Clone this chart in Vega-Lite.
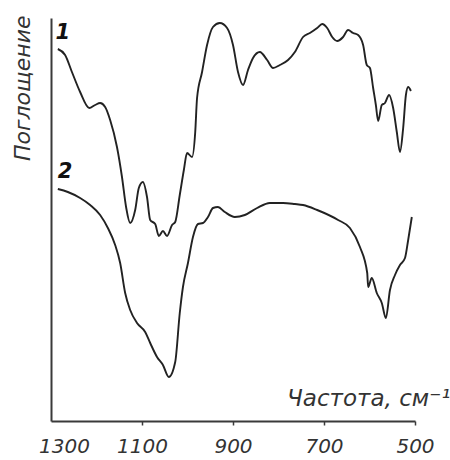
{
  "$schema": "https://vega.github.io/schema/vega-lite/v6.json",
  "autosize": "none",
  "width": 364,
  "height": 403,
  "padding": {"left": 51, "top": 18, "right": 35, "bottom": 39},
  "background": "white",
  "config": {"view": {"stroke": null}, "font": "DejaVu Sans"},
  "datasets": {
    "spectra": [
      {"s": "1", "wn": 1285, "a": 372}, {"s": "1", "wn": 1269, "a": 366}, {"s": "1", "wn": 1254, "a": 349},
      {"s": "1", "wn": 1236, "a": 329}, {"s": "1", "wn": 1216, "a": 313}, {"s": "1", "wn": 1203, "a": 316},
      {"s": "1", "wn": 1192, "a": 318}, {"s": "1", "wn": 1181, "a": 314}, {"s": "1", "wn": 1170, "a": 301},
      {"s": "1", "wn": 1155, "a": 274}, {"s": "1", "wn": 1144, "a": 244}, {"s": "1", "wn": 1135, "a": 214},
      {"s": "1", "wn": 1126, "a": 198}, {"s": "1", "wn": 1115, "a": 211}, {"s": "1", "wn": 1107, "a": 233},
      {"s": "1", "wn": 1098, "a": 239}, {"s": "1", "wn": 1089, "a": 224}, {"s": "1", "wn": 1082, "a": 201},
      {"s": "1", "wn": 1071, "a": 197}, {"s": "1", "wn": 1063, "a": 185}, {"s": "1", "wn": 1054, "a": 190},
      {"s": "1", "wn": 1045, "a": 185}, {"s": "1", "wn": 1034, "a": 196}, {"s": "1", "wn": 1027, "a": 199},
      {"s": "1", "wn": 1017, "a": 226}, {"s": "1", "wn": 1008, "a": 251}, {"s": "1", "wn": 1001, "a": 268},
      {"s": "1", "wn": 990, "a": 264}, {"s": "1", "wn": 983, "a": 289}, {"s": "1", "wn": 979, "a": 323},
      {"s": "1", "wn": 968, "a": 349}, {"s": "1", "wn": 957, "a": 376}, {"s": "1", "wn": 944, "a": 394},
      {"s": "1", "wn": 929, "a": 398}, {"s": "1", "wn": 913, "a": 393}, {"s": "1", "wn": 900, "a": 376},
      {"s": "1", "wn": 889, "a": 349}, {"s": "1", "wn": 878, "a": 336}, {"s": "1", "wn": 867, "a": 351},
      {"s": "1", "wn": 856, "a": 363}, {"s": "1", "wn": 841, "a": 369}, {"s": "1", "wn": 825, "a": 361},
      {"s": "1", "wn": 812, "a": 353}, {"s": "1", "wn": 797, "a": 356}, {"s": "1", "wn": 779, "a": 361},
      {"s": "1", "wn": 764, "a": 369}, {"s": "1", "wn": 746, "a": 384}, {"s": "1", "wn": 731, "a": 388},
      {"s": "1", "wn": 715, "a": 393}, {"s": "1", "wn": 704, "a": 397}, {"s": "1", "wn": 693, "a": 393},
      {"s": "1", "wn": 682, "a": 384}, {"s": "1", "wn": 671, "a": 380}, {"s": "1", "wn": 658, "a": 384},
      {"s": "1", "wn": 647, "a": 391}, {"s": "1", "wn": 636, "a": 388}, {"s": "1", "wn": 625, "a": 386},
      {"s": "1", "wn": 614, "a": 376}, {"s": "1", "wn": 606, "a": 356}, {"s": "1", "wn": 599, "a": 353},
      {"s": "1", "wn": 592, "a": 333}, {"s": "1", "wn": 586, "a": 316}, {"s": "1", "wn": 581, "a": 300},
      {"s": "1", "wn": 573, "a": 316}, {"s": "1", "wn": 566, "a": 318}, {"s": "1", "wn": 557, "a": 326},
      {"s": "1", "wn": 548, "a": 313}, {"s": "1", "wn": 540, "a": 289}, {"s": "1", "wn": 533, "a": 269},
      {"s": "1", "wn": 526, "a": 293}, {"s": "1", "wn": 520, "a": 326}, {"s": "1", "wn": 515, "a": 334},
      {"s": "1", "wn": 509, "a": 330},
      {"s": "2", "wn": 1285, "a": 232}, {"s": "2", "wn": 1263, "a": 229}, {"s": "2", "wn": 1236, "a": 223},
      {"s": "2", "wn": 1214, "a": 216}, {"s": "2", "wn": 1192, "a": 206}, {"s": "2", "wn": 1175, "a": 193},
      {"s": "2", "wn": 1159, "a": 176}, {"s": "2", "wn": 1148, "a": 158}, {"s": "2", "wn": 1137, "a": 128},
      {"s": "2", "wn": 1126, "a": 111}, {"s": "2", "wn": 1111, "a": 98}, {"s": "2", "wn": 1093, "a": 89},
      {"s": "2", "wn": 1082, "a": 78}, {"s": "2", "wn": 1067, "a": 64}, {"s": "2", "wn": 1054, "a": 56},
      {"s": "2", "wn": 1041, "a": 44}, {"s": "2", "wn": 1027, "a": 59}, {"s": "2", "wn": 1017, "a": 108},
      {"s": "2", "wn": 1010, "a": 134}, {"s": "2", "wn": 999, "a": 158}, {"s": "2", "wn": 988, "a": 184},
      {"s": "2", "wn": 977, "a": 197}, {"s": "2", "wn": 966, "a": 198}, {"s": "2", "wn": 955, "a": 204},
      {"s": "2", "wn": 944, "a": 213}, {"s": "2", "wn": 933, "a": 214}, {"s": "2", "wn": 918, "a": 209},
      {"s": "2", "wn": 896, "a": 204}, {"s": "2", "wn": 874, "a": 206}, {"s": "2", "wn": 847, "a": 213},
      {"s": "2", "wn": 819, "a": 218}, {"s": "2", "wn": 790, "a": 218}, {"s": "2", "wn": 764, "a": 217},
      {"s": "2", "wn": 746, "a": 216}, {"s": "2", "wn": 715, "a": 211}, {"s": "2", "wn": 669, "a": 201},
      {"s": "2", "wn": 643, "a": 193}, {"s": "2", "wn": 621, "a": 174}, {"s": "2", "wn": 605, "a": 148},
      {"s": "2", "wn": 603, "a": 134}, {"s": "2", "wn": 595, "a": 143}, {"s": "2", "wn": 584, "a": 128},
      {"s": "2", "wn": 573, "a": 118}, {"s": "2", "wn": 564, "a": 103}, {"s": "2", "wn": 555, "a": 131},
      {"s": "2", "wn": 544, "a": 146}, {"s": "2", "wn": 533, "a": 156}, {"s": "2", "wn": 522, "a": 163},
      {"s": "2", "wn": 515, "a": 181}, {"s": "2", "wn": 507, "a": 204}
    ],
    "labels": [
      {"s": "1", "wn": 1274, "a": 388},
      {"s": "2", "wn": 1269, "a": 249}
    ]
  },
  "layer": [
    {
      "data": {"name": "spectra"},
      "mark": {"type": "line", "color": "#222222", "strokeWidth": 1.9, "interpolate": "monotone"},
      "encoding": {
        "x": {
          "field": "wn", "type": "quantitative",
          "scale": {"domain": [1300, 500], "nice": false, "zero": false},
          "axis": {
            "values": [1300, 1100, 900, 700, 500],
            "format": "d",
            "labelOverlap": false, "labelBound": false, "labelFlush": false,
            "grid": false,
            "domainColor": "#3a3a3a", "domainWidth": 2,
            "tickColor": {"condition": {"test": "datum.value == 1300", "value": "transparent"}, "value": "#3a3a3a"},
            "tickSize": 4, "tickWidth": 1.5,
            "labelFont": "DejaVu Sans", "labelFontStyle": "italic", "labelFontSize": 20,
            "labelColor": "#333333", "labelPadding": 11,
            "labelOffset": {"condition": {"test": "datum.value == 1300", "value": 13}, "value": 0},
            "title": "Частота, см⁻¹",
            "titleFont": "DejaVu Sans", "titleFontStyle": "italic", "titleFontWeight": "normal",
            "titleFontSize": 23, "titleColor": "#333333",
            "titleAlign": "right", "titleBaseline": "alphabetic",
            "titleX": 399, "titleY": -16
          }
        },
        "y": {
          "field": "a", "type": "quantitative",
          "scale": {"domain": [0, 403], "nice": false},
          "axis": {
            "grid": false, "ticks": false, "labels": false,
            "domainColor": "#3a3a3a", "domainWidth": 2,
            "title": "Поглощение",
            "titleFont": "DejaVu Sans", "titleFontStyle": "italic", "titleFontWeight": "normal",
            "titleFontSize": 22, "titleColor": "#333333",
            "titleAngle": 270, "titleAlign": "right", "titleBaseline": "middle",
            "titleX": -29, "titleY": -3
          }
        },
        "detail": {"field": "s", "type": "nominal"}
      }
    },
    {
      "data": {"name": "labels"},
      "mark": {"type": "text", "font": "DejaVu Sans", "fontSize": 21, "fontWeight": "bold", "fontStyle": "italic", "color": "#111111", "align": "center", "baseline": "middle"},
      "encoding": {
        "x": {"field": "wn", "type": "quantitative"},
        "y": {"field": "a", "type": "quantitative"},
        "text": {"field": "s", "type": "nominal"}
      }
    }
  ]
}
